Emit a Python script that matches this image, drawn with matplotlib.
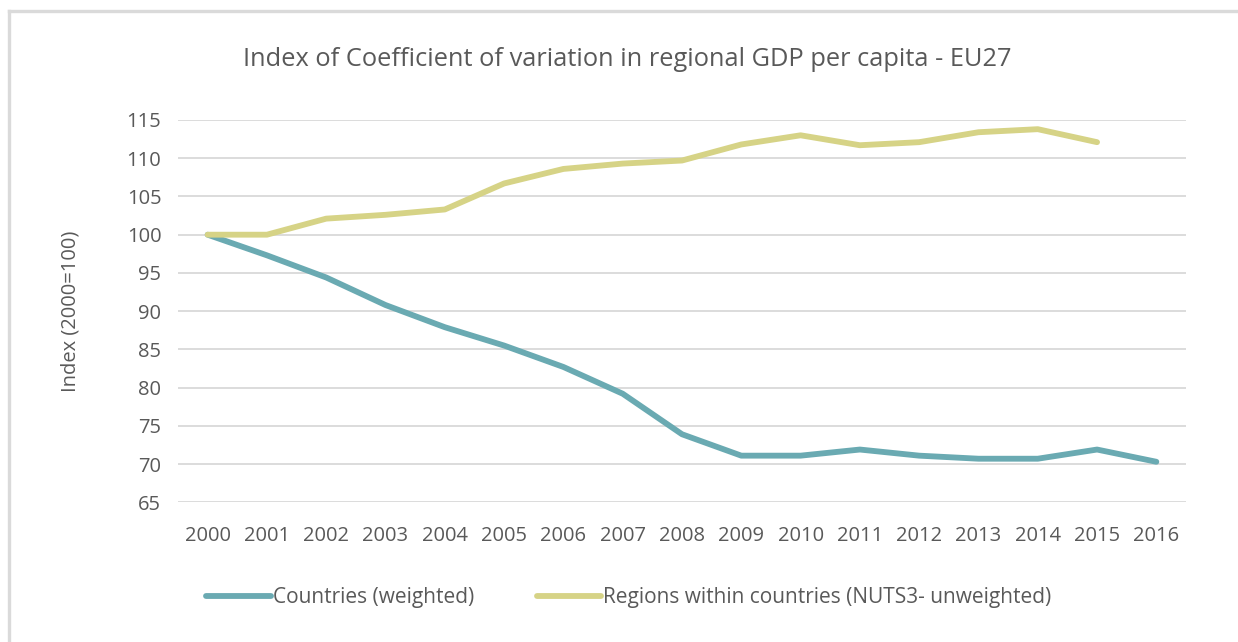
import matplotlib
matplotlib.use("Agg")
import matplotlib.pyplot as plt
from matplotlib.lines import Line2D

years = [str(y) for y in range(2000, 2017)]
countries_weighted = [100.0, 97.3, 94.4, 90.8, 87.9, 85.5, 82.7, 79.2, 73.9,
                      71.1, 71.1, 71.9, 71.1, 70.7, 70.7, 71.9, 70.3]
regions_unweighted = [100.0, 100.0, 102.1, 102.6, 103.3, 106.7, 108.6, 109.3,
                      109.7, 111.8, 113.0, 111.7, 112.1, 113.4, 113.8, 112.1]
yticks = list(range(65, 116, 5))

title = "Index of Coefficient of variation in regional GDP per capita - EU27"
ylabel = "Index (2000=100)"
label_countries = "Countries (weighted)"
label_regions = "Regions within countries (NUTS3- unweighted)"

teal = "#6AAAB2"
olive = "#D6D386"
text_col = "#595959"
grid_col = "#D9D9D9"

plt.rcParams["font.family"] = ["Open Sans", "DejaVu Sans"]

W, H = 1238, 642
fig = plt.figure(figsize=(W / 100, H / 100), dpi=100)
fig.patch.set_facecolor("white")

# chart-area border (top and left edges)
fig.add_artist(Line2D([8.5 / W, 1.0], [1 - 10.5 / H, 1 - 10.5 / H],
                      transform=fig.transFigure, color="#DADADA", lw=2.4))
fig.add_artist(Line2D([8.5 / W, 8.5 / W], [0.0, 1 - 10.5 / H],
                      transform=fig.transFigure, color="#DADADA", lw=2.4))

ax = fig.add_axes([178 / W, 1 - 502.3 / H, (1186 - 178) / W, (502.3 - 120) / H])

x_c = list(range(len(countries_weighted)))
x_r = list(range(len(regions_unweighted)))
l1, = ax.plot(x_c, countries_weighted, color=teal, lw=4.2,
              solid_capstyle="round", solid_joinstyle="round", zorder=3)
l2, = ax.plot(x_r, regions_unweighted, color=olive, lw=4.2,
              solid_capstyle="round", solid_joinstyle="round", zorder=3)

ax.set_xlim(-0.5, len(years) - 0.5)
ax.set_ylim(65, 115)
ax.set_yticks(yticks)
ax.set_xticks(range(len(years)))
ax.set_xticklabels(years)
ax.yaxis.grid(True, color=grid_col, lw=1.3)
ax.set_axisbelow(True)
for s in ax.spines.values():
    s.set_visible(False)
ax.tick_params(length=0, labelsize=14.5, colors=text_col)
ax.tick_params(axis="y", pad=12)
ax.tick_params(axis="x", pad=17)

ax.set_ylabel(ylabel, fontsize=14.5, color=text_col, labelpad=33)

fig.text(627 / W, 1 - 60 / H, title, ha="center", va="center",
         fontsize=18.3, color=text_col)

leg = fig.legend([l1, l2], [label_countries, label_regions],
                 loc="center", bbox_to_anchor=(629 / W, 1 - 598 / H),
                 ncol=2, frameon=False, fontsize=15, handlelength=3.1,
                 handletextpad=0.1, columnspacing=3.0)
for t in leg.get_texts():
    t.set_color(text_col)

fig.savefig("out.png", dpi=100, facecolor="white")
